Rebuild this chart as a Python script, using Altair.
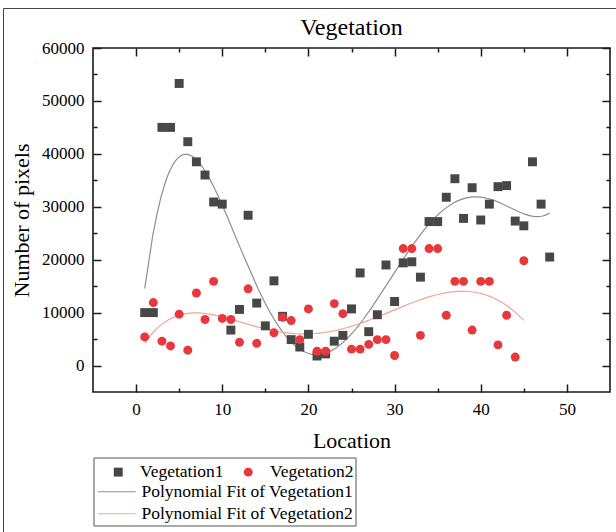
import altair as alt
import pandas as pd

SERIF = "Liberation Serif"

# Pixel counts per location
loc1 = list(range(1, 49))
veg1 = [10000, 10000, 45000, 45000, 53300, 42300, 38500, 36000, 30900, 30500,
        6700, 10600, 28400, 11800, 7500, 16000, 9300, 4900, 3500, 5900,
        1800, 2200, 4600, 5700, 10700, 17500, 6400, 9600, 19000, 12100,
        19400, 19600, 16700, 27200, 27200, 31800, 35300, 27800, 33600, 27500,
        30500, 33800, 34000, 27300, 26400, 38500, 30500, 20500]

loc2 = [1, 2, 3, 4, 5, 6, 7, 8, 9, 10, 11, 12, 13, 14, 16, 17, 18, 19, 20, 21,
        22, 23, 24, 25, 26, 27, 28, 29, 30, 31, 32, 33, 34, 35, 36, 37, 38, 39,
        40, 41, 42, 43, 44, 45]
veg2 = [5400, 11900, 4600, 3700, 9700, 2900, 13700, 8700, 15900, 8900,
        8700, 4400, 14500, 4200, 6200, 9100, 8500, 4900, 10700, 2700,
        2700, 11700, 9800, 3100, 3100, 4000, 4900, 4900, 1900, 22100,
        22100, 5700, 22100, 22100, 9500, 15900, 15900, 6700, 15900, 15900,
        3900, 9500, 1600, 19800]

series = ["Vegetation1", "Vegetation2"]
fits = ["Polynomial Fit of Vegetation1", "Polynomial Fit of Vegetation2"]
point_colors = ["#474747", "#e8383c"]
fit_colors = ["#8e8e8e", "#f4a592"]

df = pd.concat([
    pd.DataFrame({"loc": loc1, "value": veg1, "series": series[0]}),
    pd.DataFrame({"loc": loc2, "value": veg2, "series": series[1]}),
], ignore_index=True)

x_scale = alt.Scale(domain=[-5, 55], nice=False, zero=False)
y_scale = alt.Scale(domain=[-5000, 60000], nice=False, zero=False)

x_major = [0, 10, 20, 30, 40, 50]
x_minor = [5, 15, 25, 35, 45]
y_major = [0, 10000, 20000, 30000, 40000, 50000, 60000]
y_minor = [5000, 15000, 25000, 35000, 45000, 55000]

tick_style = dict(domain=False, grid=False, tickColor="#1a1a1a", tickWidth=1.5)


def tick_axis(orient, values, size, **kw):
    """Inward-pointing ticks: shift the axis inside by its tick length."""
    opts = dict(orient=orient, values=values, tickSize=size, offset=-size,
                labels=False, title=None)
    opts.update(tick_style)
    opts.update(kw)
    return alt.Axis(**opts)


x_bottom = tick_axis("bottom", x_major, 8, labels=True, labelFont=SERIF,
                     labelFontSize=17, labelColor="black", labelPadding=9,
                     title="Location", titleFont=SERIF, titleFontSize=22,
                     titleFontWeight="normal", titleColor="black",
                     titlePadding=13)
y_left = tick_axis("left", y_major, 8, labels=True, labelFont=SERIF,
                   labelFontSize=17, labelColor="black", labelPadding=9,
                   format="d", title="Number of pixels", titleFont=SERIF,
                   titleFontSize=22, titleFontWeight="normal",
                   titleColor="black", titlePadding=8)

point_legend = alt.Legend(
    title=None, orient="none", legendX=16.5, legendY=415,
    direction="horizontal", labelFont=SERIF, labelFontSize=17.5,
    labelColor="black", labelLimit=0, symbolSize=80, labelOffset=13,
    columnPadding=15, padding=0, symbolStrokeWidth=0, symbolOpacity=1,
)
fit_legend = alt.Legend(
    title=None, orient="none", legendX=15, legendY=435,
    direction="vertical", labelFont=SERIF, labelFontSize=17.5,
    labelColor="black", labelLimit=0, symbolType="M-4.75,0H4.75",
    symbolSize=64, symbolStrokeWidth=1.2, labelOffset=16, rowPadding=3,
    padding=0,
)

fit_stroke = alt.Stroke("fit:N", scale=alt.Scale(domain=fits, range=fit_colors),
                        legend=fit_legend)

base = alt.Chart(df)

fit1 = base.transform_filter(alt.datum.series == series[0]).transform_regression(
    "loc", "value", method="poly", order=5
).transform_calculate(fit="'Polynomial Fit of Vegetation1'").mark_line(
    strokeWidth=1.2
).encode(
    x=alt.X("loc:Q", scale=x_scale, axis=x_bottom),
    y=alt.Y("value:Q", scale=y_scale, axis=y_left),
    stroke=fit_stroke,
)

fit2 = base.transform_filter(alt.datum.series == series[1]).transform_regression(
    "loc", "value", method="poly", order=5
).transform_calculate(fit="'Polynomial Fit of Vegetation2'").mark_line(
    strokeWidth=1.2
).encode(
    x=alt.X("loc:Q", scale=x_scale, axis=None),
    y=alt.Y("value:Q", scale=y_scale, axis=None),
    stroke=fit_stroke,
)

points = base.mark_point(filled=True, size=80, opacity=1, strokeWidth=0).encode(
    x=alt.X("loc:Q", scale=x_scale, axis=tick_axis("bottom", x_minor, 4)),
    y=alt.Y("value:Q", scale=y_scale, axis=tick_axis("left", y_minor, 4)),
    color=alt.Color("series:N", scale=alt.Scale(domain=series, range=point_colors),
                    legend=point_legend),
    shape=alt.Shape("series:N", scale=alt.Scale(domain=series, range=["square", "circle"]),
                    legend=point_legend),
)

# Unlabelled tick axes along the top and right edges of the frame
top_right_major = base.mark_point(opacity=0).encode(
    x=alt.X("loc:Q", scale=x_scale, axis=tick_axis("top", x_major, 8)),
    y=alt.Y("value:Q", scale=y_scale, axis=tick_axis("right", y_major, 8)),
)
top_right_minor = base.mark_point(opacity=0).encode(
    x=alt.X("loc:Q", scale=x_scale, axis=tick_axis("top", x_minor, 4)),
    y=alt.Y("value:Q", scale=y_scale, axis=tick_axis("right", y_minor, 4)),
)

one_row = pd.DataFrame({"k": [0]})

legend_box = alt.Chart(one_row).mark_rect(
    fill="white", fillOpacity=0, stroke="#555555", strokeWidth=1
).encode(x=alt.value(1), x2=alt.value(263), y=alt.value(410), y2=alt.value(478))

border_left = alt.Chart(one_row).mark_rule(color="#444444", strokeWidth=1).encode(
    x=alt.value(-89.5), y=alt.value(-39.5), y2=alt.value(484))
border_top = alt.Chart(one_row).mark_rule(color="#444444", strokeWidth=1).encode(
    x=alt.value(-89.5), x2=alt.value(523), y=alt.value(-39.5))

chart = alt.layer(
    legend_box, border_left, border_top,
    fit1, fit2, points, top_right_major, top_right_minor,
).resolve_axis(
    x="independent", y="independent"
).properties(
    width=517,
    height=344,
    padding={"left": 93, "top": 48, "right": 6, "bottom": 140},
    autosize=alt.AutoSizeParams(type="none"),
    # the page border line sits above the plot, so pull the title back down below it
    title=alt.TitleParams("Vegetation", font=SERIF, fontSize=24,
                          fontWeight="normal", color="black",
                          anchor="middle", offset=-32),
    background="white",
).configure_view(
    stroke="#1a1a1a", strokeWidth=1.6
)

chart.save("out.html", embed_options={"renderer": "svg", "actions": False})
